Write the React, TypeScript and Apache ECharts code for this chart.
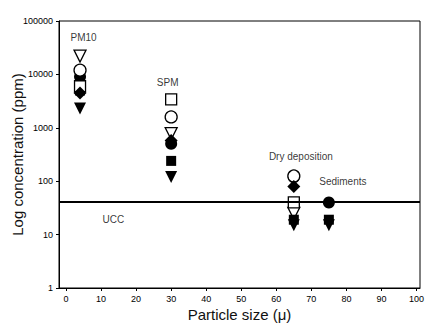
import React, { useEffect, useRef } from "react";
import * as echarts from "echarts";

// Particle size (µ) of each group
const sizes = [4, 30, 65, 75];
// Concentrations (ppm) per marker type, one value per group (null = none)
const openTriangle = [22000, 780, 25, null];
const openCircle = [12000, 1600, 125, null];
const filledCircle = [9000, 500, 118, 40];
const openSquare = [6000, 3400, 40, null];
const filledDiamond = [4500, 580, 80, null];
const filledSquare = [5000, 240, 19, 19];
const filledTriangle = [2300, 120, 15, 15];
const uccValue = 41;

const xTicks = [0, 10, 20, 30, 40, 50, 60, 70, 80, 90, 100];
const yTicks = [1, 10, 100, 1000, 10000, 100000];

const annoText = ["PM10", "SPM", "Dry deposition", "Sediments", "UCC"];
const annoX = [5, 29, 67, 79, 13.5];
const annoY = [50000, 7200, 290, 97, 19.5];

export default function App() {
  const ref = useRef<HTMLDivElement>(null);
  useEffect(() => {
    const chart = echarts.init(ref.current!, null, { renderer: "svg" });
    const pts = (vals: (number | null)[]) =>
      sizes.map((x, i) => (vals[i] == null ? null : [x, vals[i]])).filter((d) => d) as number[][];
    const open = { color: "#fff", borderColor: "#000", borderWidth: 1.3, opacity: 1 };
    const filled = { color: "#000", opacity: 1 };
    const mk = (name: string, vals: (number | null)[], symbol: string, size: number, style: any, rot = 0) => ({
      name,
      type: "scatter",
      data: pts(vals),
      symbol,
      symbolSize: size,
      symbolRotate: rot,
      itemStyle: style,
      z: 3,
    });
    chart.setOption({
      animation: false,
      grid: {
        left: 59,
        right: 7,
        top: 21,
        bottom: 41,
        containLabel: false,
        outerBoundsMode: "none",
        show: true,
        borderColor: "#000",
        borderWidth: 1,
      },
      xAxis: {
        type: "value",
        min: -2,
        max: 101,
        name: "Particle size (\u03bc)",
        nameLocation: "middle",
        nameGap: 19,
        nameMoveOverlap: false,
        nameTextStyle: { fontFamily: "Liberation Sans", fontSize: 15, color: "#111" },
        axisLine: { onZero: false, lineStyle: { color: "#000", width: 1 } },
        axisTick: { customValues: xTicks, length: 3, lineStyle: { color: "#000" } },
        axisLabel: {
          customValues: xTicks,
          margin: 6,
          fontFamily: "Liberation Sans",
          fontSize: 9,
          color: "#000",
        },
        splitLine: { show: false },
      },
      yAxis: {
        type: "log",
        logBase: 10,
        min: 1,
        max: 100000,
        name: "Log concentration (ppm)",
        nameLocation: "middle",
        nameGap: 34,
        nameMoveOverlap: false,
        nameTextStyle: { fontFamily: "Liberation Sans", fontSize: 15, color: "#111" },
        axisLine: { onZero: false, lineStyle: { color: "#000", width: 1 } },
        axisTick: { customValues: yTicks, length: 3, lineStyle: { color: "#000" } },
        axisLabel: {
          customValues: yTicks,
          margin: 6,
          fontFamily: "Liberation Sans",
          fontSize: 9,
          color: "#000",
          formatter: (v: number) => String(Math.round(v)),
        },
        splitLine: { show: false },
        minorTick: { show: false },
      },
      series: [
        mk("openTriangle", openTriangle, "triangle", 12, open, 180),
        mk("filledCircle", filledCircle, "circle", 12, filled),
        mk("openCircle", openCircle, "circle", 12, open),
        mk("filledSquare", filledSquare, "rect", 10, filled),
        mk("openSquare", openSquare, "rect", 11, open),
        mk("filledDiamond", filledDiamond, "diamond", 13, filled),
        mk("filledTriangle", filledTriangle, "triangle", 12, filled, 180),
        {
          name: "UCC",
          type: "line",
          data: [],
          markLine: {
            silent: true,
            symbol: "none",
            label: { show: false },
            lineStyle: { color: "#000", width: 2, type: "solid" },
            data: [{ yAxis: uccValue }],
          },
        },
        {
          name: "labels",
          type: "scatter",
          symbolSize: 0,
          data: annoText.map((t, i) => ({ value: [annoX[i], annoY[i]], name: t })),
          label: {
            show: true,
            position: "inside",
            formatter: (p: any) => p.name,
            fontFamily: "Liberation Sans",
            fontSize: 10,
            color: "#000",
          },
          z: 5,
        },
      ],
    });
    return () => chart.dispose();
  }, []);
  return <div ref={ref} style={{ position: "absolute", left: 0, top: 0, width: 427, height: 329 }} />;
}
